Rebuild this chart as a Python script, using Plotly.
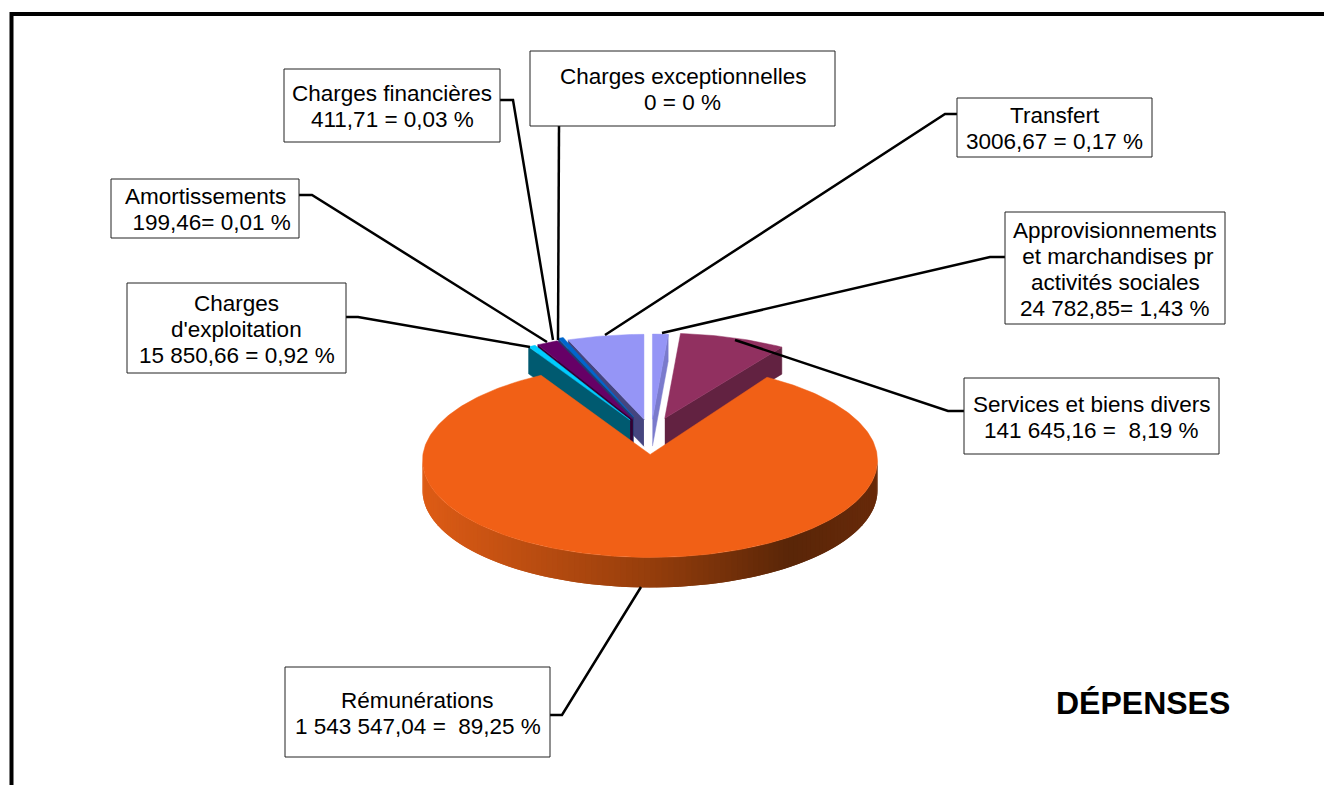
import numpy as np
import plotly.graph_objs as go

# data
names = ["Approvisionnements", "Services", "Rémunérations", "Exploitation",
         "Amortissements", "Financières", "Exceptionnelles", "Transfert"]
# share of the circle each slice really takes in the drawing (clockwise from the top)
drawn_share = [1.1, 7.5, 83.45, 0.55, 1.6, 0.4, 0.0, 5.4]
label_lines = [
    ["Approvisionnements", " et marchandises pr", "activités sociales", "24 782,85= 1,43 %"],
    ["Services et biens divers", "141 645,16 =  8,19 %"],
    ["Rémunérations", "1 543 547,04 =  89,25 %"],
    ["Charges", "d'exploitation", "15 850,66 = 0,92 %"],
    ["Amortissements", "  199,46= 0,01 %"],
    ["Charges financières", "411,71 = 0,03 %"],
    ["Charges exceptionnelles", "0 = 0 %"],
    ["Transfert", "3006,67 = 0,17 %"],
]
title_text = "DÉPENSES"

# slice styling
top_colors = ["#9595F6", "#913060", "#F16016", "#00CCFF", "#660066", "#0066CC", "#CCCCFF", "#9595F6"]
face_colors = ["#7A7ACC", "#622241", "#F16016", "#005A70", "#330033", "#223A70", "#8888AA", "#45457F"]
pulls = [42, 46, 41, 45, 45, 50, 40, 42]
rim_widths = [227.5, 227.5, 227.5, 212, 212, 212, 212, 227.5]

# label boxes (x0, y0, x1, y1) and leader lines, in page pixels
boxes = [(1005, 212, 1225, 324), (964, 378, 1219, 454), (285, 667, 550, 757), (127, 283, 346, 373),
         (111, 179, 299, 238), (284, 69, 500, 142), (530, 51, 835, 126), (957, 98, 1152, 157)]
leaders = [
    ([1005, 990, 662], [257, 257, 333]),
    ([964, 948, 735], [411, 411, 340]),
    ([550, 562, 641], [715, 715, 587]),
    ([346, 358, 530], [317, 317, 347]),
    ([299, 312, 547], [195, 195, 342]),
    ([500, 513, 553], [100, 100, 340]),
    ([559, 558], [126, 340]),
    ([957, 945, 605], [114, 114, 335]),
]

HUB_X, HUB_Y = 651, 437
RY = 97
TILT = 0.426
FONT = "Liberation Sans, Arial, sans-serif"
LINE_STEP = 26
WALL_STOPS = [(422, (222, 92, 22)), (650, (150, 62, 12)), (790, (90, 38, 8)), (877, (104, 42, 10))]

edges = 90 - 3.6 * np.concatenate([[0], np.cumsum(drawn_share)])
fig = go.Figure()


def poly(xs, ys, color, width=0.5):
    fig.add_trace(go.Scatter(x=xs, y=ys, mode="lines", fill="toself", fillcolor=color,
                             line=dict(color=color, width=width), hoverinfo="skip"))


def slice_geometry(i):
    t0, t1 = edges[i], edges[i + 1]
    mid = np.radians((t0 + t1) / 2)
    ax = HUB_X + pulls[i] * np.cos(mid)
    ay = HUB_Y - pulls[i] * TILT * np.sin(mid)
    # the ellipse sits a little below the apex because of the perspective
    cy = ay + (6 if i == 2 else 12)
    return t0, t1, ax, ay, cy, mid


def draw_back_slice(i, depth=27):
    t0, t1, ax, ay, cy, mid = slice_geometry(i)
    ts = np.radians(np.linspace(t0, t1, 24))
    rim_x = ax + rim_widths[i] * np.cos(ts)
    rim_y = cy - RY * np.sin(ts)
    # cut face that looks at the viewer: the outer edge of the slice
    k = 0 if np.cos(mid) < 0 else -1
    fx, fy = rim_x[k], rim_y[k]
    poly([ax, fx, fx, ax], [ay, fy, fy + depth, ay + depth], face_colors[i])
    poly(np.r_[ax, rim_x, ax], np.r_[ay, rim_y, ay], top_colors[i])


for i in [0, 1, 7, 5, 4, 3]:
    draw_back_slice(i)

# big slice: outer wall with its gradient, then the top
t0, t1, ax, ay, cy, _ = slice_geometry(2)
RX = rim_widths[2]
DEPTH = 30
steps = np.radians(np.linspace(180, 360, 121))
stop_x = [s[0] for s in WALL_STOPS]
for j in range(len(steps) - 1):
    # each strip runs under the next one so no seams show
    seg = steps[j:j + 3]
    xs = HUB_X - 1 + RX * np.cos(seg)
    ys = cy - RY * np.sin(seg)
    rgb = [np.interp(xs[:2].mean(), stop_x, [s[1][c] for s in WALL_STOPS]) for c in range(3)]
    color = "rgb(%d,%d,%d)" % tuple(rgb)
    poly(np.r_[xs, xs[::-1]], np.r_[ys, ys[::-1] + DEPTH], color, width=0)
ts = np.radians(np.linspace(t0, t1, 300))
poly(np.r_[ax, HUB_X - 1 + RX * np.cos(ts), ax], np.r_[ay, cy - RY * np.sin(ts), ay], top_colors[2])

# leader lines
for lx, ly in leaders:
    fig.add_trace(go.Scatter(x=lx, y=ly, mode="lines", line=dict(color="black", width=2.5), hoverinfo="skip"))

# label boxes and texts
for (x0, y0, x1, y1), lines in zip(boxes, label_lines):
    fig.add_shape(type="rect", x0=x0, y0=y0, x1=x1, y1=y1, line=dict(color="#222222", width=1), fillcolor="white")
    first = (y0 + y1) / 2 - LINE_STEP * (len(lines) - 1) / 2 + 1
    for n, line in enumerate(lines):
        fig.add_annotation(x=(x0 + x1) / 2, y=first + n * LINE_STEP, text=line, showarrow=False,
                           font=dict(family=FONT, size=22.5, color="black"))

fig.add_annotation(x=1143, y=703, text="<b>%s</b>" % title_text, showarrow=False,
                   font=dict(family=FONT, size=32, color="black"))

# thick page frame, runs off the right and bottom edges
fig.add_shape(type="rect", x0=11.5, y0=14, x1=1400, y1=900, line=dict(color="black", width=4), layer="below")

fig.update_layout(
    width=1324, height=785, margin=dict(l=0, r=0, t=0, b=0),
    paper_bgcolor="white", plot_bgcolor="white", showlegend=False,
    xaxis=dict(range=[0, 1324], visible=False),
    yaxis=dict(range=[785, 0], visible=False),
)
fig.write_html("out.html", config={"displayModeBar": False},
               post_script="document.body.style.margin='0';document.documentElement.style.overflow='hidden';")
